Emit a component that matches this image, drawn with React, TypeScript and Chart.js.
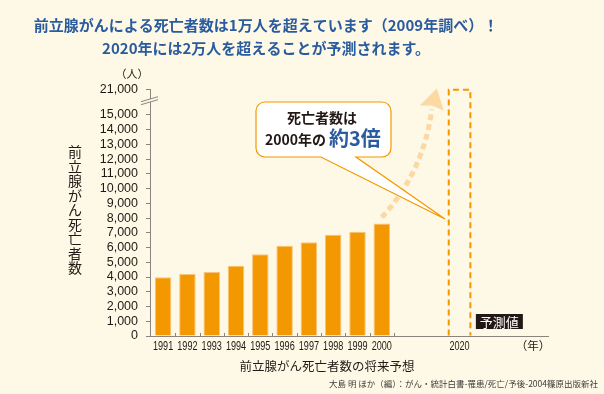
import { useEffect, useRef } from 'react';
import { Chart, registerables } from 'chart.js';

Chart.register(...registerables);

// ---- data ----
const years = ['1991', '1992', '1993', '1994', '1995', '1996', '1997', '1998', '1999', '2000'];
const deaths = [3980, 4200, 4340, 4770, 5540, 6130, 6360, 6870, 7080, 7640];
const forecastYear = '2020';
const forecastDeaths = 21000;
const yTickValues = [0, 1000, 2000, 3000, 4000, 5000, 6000, 7000, 8000, 9000, 10000, 11000, 12000, 13000, 14000, 15000, 21000];
const yBreakFrom = 15000;
const titleLines = [
  '前立腺がんによる死亡者数は1万人を超えています（2009年調べ）！',
  '2020年には2万人を超えることが予測されます。',
];
const yAxisTitle = '前立腺がん死亡者数';
const yUnit = '（人）';
const xUnit = '（年）';
const forecastTag = '予測値';
const calloutLine1 = '死亡者数は';
const calloutLine2a = '2000年の';
const calloutLine2b = '約3倍';
const xTitle = '前立腺がん死亡者数の将来予想';
const sourceText = '大島 明 ほか（編）：がん・統計白書-罹患/死亡/予後-2004篠原出版新社';

// ---- broken-axis mappings ----
const BREAK_K = 0.285;
const toAxis = (v: number) => (v <= yBreakFrom ? v : yBreakFrom + (v - yBreakFrom) * BREAK_K);
const yearPos = (y: string) => {
  const n = Number(y);
  return n <= 2000 ? n - 1991 : 9 + (n - 2000) * 0.16;
};

const BG = '#fef9e7';
const ORANGE = '#f39800';
const LIGHT = '#fcd8a2';
const AXIS = '#8a8480';
const DARK = '#231815';
const BLUE = '#2a5b9f';
const JP = '"Noto Sans CJK JP", "Noto Sans", sans-serif';
const LAT = '"Liberation Sans", Arial, sans-serif';

const decor = {
  id: 'decor',
  beforeDraw(chart: any) {
    const { ctx, width, height } = chart;
    ctx.save();
    ctx.fillStyle = BG;
    ctx.fillRect(0, 0, width, height);
    ctx.restore();
  },
  afterDatasetsDraw(chart: any) {
    const ctx = chart.ctx;
    const bar = chart.getDatasetMeta(1).data[0];
    const { x, y, base, width } = bar.getProps(['x', 'y', 'base', 'width'], true);
    ctx.save();
    ctx.strokeStyle = ORANGE;
    ctx.lineWidth = 2;
    ctx.setLineDash([6, 4]);
    ctx.beginPath();
    ctx.moveTo(x - width / 2, base);
    ctx.lineTo(x - width / 2, y);
    ctx.lineTo(x + width / 2, y);
    ctx.lineTo(x + width / 2, base);
    ctx.stroke();
    ctx.restore();
  },
  afterDraw(chart: any) {
    const ctx = chart.ctx;
    const xs = chart.scales.x;
    const ys = chart.scales.y;
    const area = chart.chartArea;
    ctx.save();

    // x tick labels (condensed face, placed by the x scale)
    ctx.fillStyle = DARK;
    ctx.font = `13px ${LAT}`;
    ctx.textAlign = 'center';
    ctx.textBaseline = 'middle';
    xs.ticks.forEach((t: any) => {
      const px = xs.getPixelForValue(t.value);
      ctx.save();
      ctx.translate(px, area.bottom + 10);
      ctx.scale(0.7, 1);
      ctx.fillText(t.label, 0, 0);
      ctx.restore();
    });

    // title
    ctx.fillStyle = BLUE;
    ctx.font = `bold 15px ${JP}`;
    ctx.textAlign = 'center';
    ctx.textBaseline = 'middle';
    ctx.fillText(titleLines[0], 266, 25);
    ctx.fillText(titleLines[1], 266, 48);

    // y axis title (stacked)
    ctx.fillStyle = DARK;
    ctx.font = `14px ${JP}`;
    Array.from(yAxisTitle).forEach((ch, i) => ctx.fillText(ch, 75, 152 + i * 14.5));

    // unit labels
    ctx.font = `11px ${JP}`;
    ctx.fillText(yUnit, 132, ys.getPixelForValue(toAxis(21000)) - 16);
    ctx.font = `11.5px ${JP}`;
    ctx.fillText(xUnit, area.right - 15, area.bottom + 10);

    // x ticks (upward, between bars)
    ctx.strokeStyle = AXIS;
    ctx.lineWidth = 1;
    for (let i = 0; i < years.length; i++) {
      const px = Math.round(xs.getPixelForValue(i + 0.5)) + 0.5;
      ctx.beginPath();
      ctx.moveTo(px, area.bottom);
      ctx.lineTo(px, area.bottom - 3);
      ctx.stroke();
    }

    // axis break
    const yTop = ys.getPixelForValue(toAxis(21000));
    const mid = yTop + 10.5;
    ctx.fillStyle = BG;
    ctx.beginPath();
    ctx.moveTo(area.left - 9, mid + 1.5);
    ctx.lineTo(area.left + 8, mid - 3.5);
    ctx.lineTo(area.left + 8, mid - 0.5);
    ctx.lineTo(area.left - 9, mid + 4.5);
    ctx.closePath();
    ctx.fill();
    ctx.strokeStyle = AXIS;
    ctx.beginPath();
    ctx.moveTo(area.left - 9, mid + 1.5);
    ctx.lineTo(area.left + 8, mid - 3.5);
    ctx.moveTo(area.left - 9, mid + 4.5);
    ctx.lineTo(area.left + 8, mid - 0.5);
    ctx.stroke();

    // dashed curved arrow
    const last = chart.getDatasetMeta(0).data[years.length - 1];
    const sx = last.x;
    const sy = last.y - 6;
    ctx.strokeStyle = LIGHT;
    ctx.lineWidth = 5;
    ctx.setLineDash([6, 4]);
    ctx.beginPath();
    ctx.moveTo(sx, sy);
    ctx.quadraticCurveTo(sx + 42, sy - 46, sx + 50, sy - 108);
    ctx.stroke();
    ctx.setLineDash([]);
    ctx.fillStyle = LIGHT;
    ctx.beginPath();
    ctx.moveTo(sx + 55, sy - 129);
    ctx.lineTo(sx + 62, sy - 107);
    ctx.lineTo(sx + 50, sy - 112);
    ctx.lineTo(sx + 38, sy - 112);
    ctx.closePath();
    ctx.fill();

    // callout
    const x0 = 256, y0 = 102, x1 = 391, y1 = 157, r = 9;
    const tipX = 445, tipY = 219;
    ctx.beginPath();
    ctx.moveTo(x0 + r, y0);
    ctx.lineTo(x1 - r, y0);
    ctx.arcTo(x1, y0, x1, y0 + r, r);
    ctx.lineTo(x1, y1 - r);
    ctx.arcTo(x1, y1, x1 - r, y1, r);
    ctx.lineTo(356, y1);
    ctx.lineTo(tipX, tipY);
    ctx.lineTo(321, y1);
    ctx.lineTo(x0 + r, y1);
    ctx.arcTo(x0, y1, x0, y1 - r, r);
    ctx.lineTo(x0, y0 + r);
    ctx.arcTo(x0, y0, x0 + r, y0, r);
    ctx.closePath();
    ctx.fillStyle = '#ffffff';
    ctx.fill();
    ctx.strokeStyle = ORANGE;
    ctx.lineWidth = 1.2;
    ctx.stroke();

    ctx.fillStyle = DARK;
    ctx.font = `bold 14px ${JP}`;
    ctx.textAlign = 'center';
    ctx.textBaseline = 'alphabetic';
    ctx.fillText(calloutLine1, 322, 123);
    ctx.textAlign = 'left';
    ctx.fillText(calloutLine2a, 265, 145);
    const w2 = ctx.measureText(calloutLine2a).width;
    ctx.fillStyle = BLUE;
    ctx.font = `bold 20px ${JP}`;
    ctx.fillText(calloutLine2b, 265 + w2 + 3, 146);

    // forecast tag
    const fb = chart.getDatasetMeta(1).data[0];
    const tagX = fb.x + fb.width / 2 + 5.5;
    ctx.fillStyle = DARK;
    ctx.fillRect(tagX, area.bottom - 22, 47, 15);
    ctx.fillStyle = '#ffffff';
    ctx.font = `13px ${JP}`;
    ctx.textAlign = 'center';
    ctx.textBaseline = 'middle';
    ctx.fillText(forecastTag, tagX + 23.5, area.bottom - 14.3);

    // x title and source
    ctx.fillStyle = DARK;
    ctx.font = `12.5px ${JP}`;
    ctx.fillText(xTitle, 327, 366.5);
    ctx.fillStyle = '#3e3a39';
    ctx.font = `8.5px ${JP}`;
    ctx.textAlign = 'right';
    ctx.fillText(sourceText, 598, 383.5);

    ctx.restore();
  },
};

export default function App() {
  const ref = useRef<HTMLCanvasElement | null>(null);
  useEffect(() => {
    document.body.style.margin = '0';
    document.body.style.background = BG;
    const canvas = ref.current;
    if (!canvas) return;
    const chart = new Chart(canvas, {
      type: 'bar',
      data: {
        datasets: [
          {
            data: years.map((y, i) => ({ x: yearPos(y), y: toAxis(deaths[i]) })),
            backgroundColor: ORANGE,
            borderColor: '#f8c37c',
            borderWidth: 1,
            borderSkipped: 'bottom',
            barPercentage: 0.68,
            categoryPercentage: 1,
            grouped: false,
          } as any,
          {
            data: [{ x: yearPos(forecastYear), y: toAxis(forecastDeaths) }],
            backgroundColor: 'rgba(0,0,0,0)',
            borderWidth: 0,
            barPercentage: 0.89,
            categoryPercentage: 1,
            grouped: false,
          } as any,
        ],
      },
      options: {
        responsive: false,
        animation: false,
        devicePixelRatio: 1,
        layout: { padding: { top: 89.7, right: 56, bottom: 38, left: 0 } },
        plugins: { legend: { display: false }, tooltip: { enabled: false }, title: { display: false } },
        scales: {
          x: {
            type: 'linear',
            min: -0.54,
            max: 15.84,
            offset: false,
            z: 1,
            grid: { display: false, drawTicks: false, offset: false },
            border: { display: true, color: AXIS, width: 1 },
            afterBuildTicks: (s: any) => {
              s.ticks = [...years, forecastYear].map((y) => ({ value: yearPos(y) }));
            },
            afterFit: (s: any) => {
              s.height = 20;
            },
            ticks: {
              display: false,
              autoSkip: false,
              maxRotation: 0,
              callback: (v: any) => {
                const all = [...years, forecastYear];
                const f = all.find((y) => Math.abs(yearPos(y) - Number(v)) < 1e-6);
                return f ?? '';
              },
            },
          },
          y: {
            type: 'linear',
            min: 0,
            max: toAxis(21000),
            grid: { display: true, drawOnChartArea: false, drawTicks: true, tickLength: 4, color: AXIS },
            border: { display: true, color: AXIS, width: 1 },
            afterBuildTicks: (s: any) => {
              s.ticks = yTickValues.map((v) => ({ value: toAxis(v) }));
            },
            afterFit: (s: any) => {
              s.width = 150;
            },
            ticks: {
              autoSkip: false,
              padding: 8,
              color: DARK,
              font: { family: LAT, size: 12.5 },
              callback: (v: any) => {
                const f = yTickValues.find((t) => Math.abs(toAxis(t) - Number(v)) < 1e-6);
                return f === undefined ? '' : f.toLocaleString('en-US');
              },
            },
          },
        },
      },
      plugins: [decor],
    });
    return () => chart.destroy();
  }, []);
  return (
    <div style={{ width: 604, height: 394, background: BG }}>
      <canvas ref={ref} width={604} height={394} style={{ display: 'block' }} />
    </div>
  );
}
